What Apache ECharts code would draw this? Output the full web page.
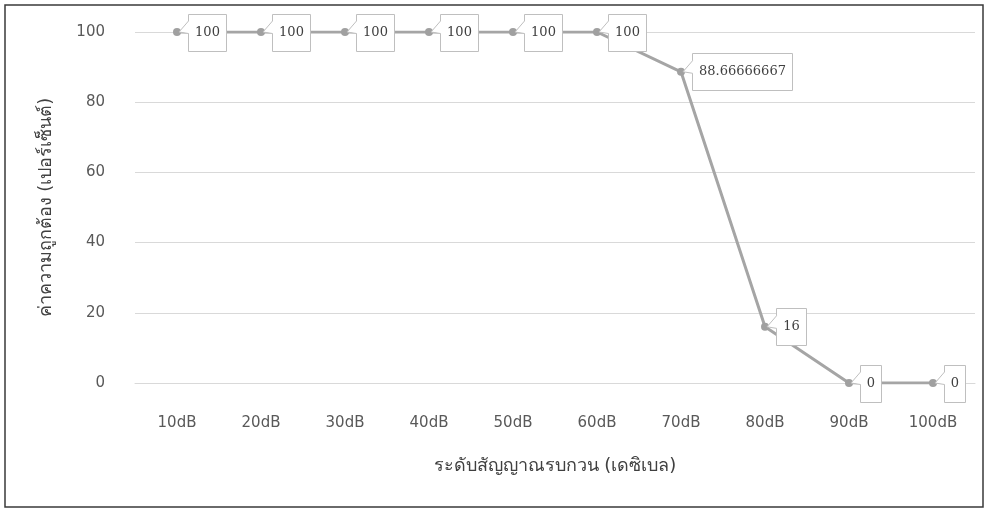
<!DOCTYPE html>
<html>
<head>
<meta charset="utf-8">
<script src="https://cdn.jsdelivr.net/npm/echarts@6/dist/echarts.min.js"></script>
<style>
  html, body { margin: 0; padding: 0; background: #fff; }
  #chart { width: 989px; height: 509px; }
</style>
</head>
<body>
<div id="chart"></div>
<script>
// Noise level categories and recognition accuracy (%)
var categories = ['10dB', '20dB', '30dB', '40dB', '50dB', '60dB', '70dB', '80dB', '90dB', '100dB'];
var accuracy = [100, 100, 100, 100, 100, 100, 88.66666667, 16, 0, 0];
var yTicks = { min: 0, max: 100, interval: 20 };

var FONT = "Tahoma, 'DejaVu Sans', 'Noto Sans', sans-serif";
var LABEL_FONT = "'DejaVu Serif', 'Liberation Serif', serif";
var LABEL_FONT_SIZE = 13;

var measureCtx = document.createElement('canvas').getContext('2d');
function textWidth(str) {
  measureCtx.font = LABEL_FONT_SIZE + 'px ' + LABEL_FONT;
  return measureCtx.measureText(str).width;
}

// Callout with a wedge pointing back at the data point
function renderCallout(params, api) {
  var idx = api.value(0);
  var val = api.value(1);
  var pt = api.coord([idx, val]);
  var px = pt[0], py = pt[1];
  var str = String(accuracy[params.dataIndex]);
  var w = Math.round(textWidth(str)) + 13;
  var h = 37;
  var L = px + 11.5, R = L + w;
  var T = Math.round(py - h / 2) + 0.5, B = T + h;
  var poly = [
    [L, T], [R, T], [R, B], [L, B],
    [L, py + 1.5], [px + 2, py], [L, py - 11]
  ];
  return {
    type: 'group',
    children: [
      {
        type: 'polygon',
        shape: { points: poly },
        style: { fill: '#ffffff', stroke: '#BFBFBF', lineWidth: 1 }
      },
      {
        type: 'text',
        style: {
          text: str,
          x: L + w / 2,
          y: (T + B) / 2,
          align: 'center',
          verticalAlign: 'middle',
          fill: '#404040',
          font: LABEL_FONT_SIZE + 'px ' + LABEL_FONT
        }
      }
    ]
  };
}

var chart = echarts.init(document.getElementById('chart'));
chart.setOption({
  animation: false,
  backgroundColor: '#ffffff',
  textStyle: { fontFamily: FONT },
  graphic: [{
    type: 'rect',
    shape: { x: 5, y: 5, width: 978, height: 502 },
    style: { fill: 'none', stroke: '#3a3a3a', lineWidth: 1.5 },
    z: 100
  }],
  grid: { left: 135, right: 14, top: 32, bottom: 126 },
  xAxis: {
    type: 'category',
    data: categories,
    boundaryGap: true,
    name: 'ระดับสัญญาณรบกวน (เดซิเบล)',
    nameLocation: 'middle',
    nameGap: 74,
    nameTextStyle: { color: '#404040', fontSize: 18, fontFamily: FONT },
    axisLine: { show: true, lineStyle: { color: '#D9D9D9', width: 1 } },
    axisTick: { show: false },
    axisLabel: { color: '#595959', fontSize: 15, margin: 33, fontFamily: FONT }
  },
  yAxis: {
    type: 'value',
    min: yTicks.min,
    max: yTicks.max,
    interval: yTicks.interval,
    name: 'ค่าความถูกต้อง (เปอร์เซ็นต์)',
    nameLocation: 'middle',
    nameGap: 80,
    nameRotate: 90,
    nameTextStyle: { color: '#404040', fontSize: 18, fontFamily: FONT },
    axisLine: { show: false },
    axisTick: { show: false },
    splitLine: { lineStyle: { color: '#D9D9D9', width: 1 } },
    axisLabel: { color: '#595959', fontSize: 15, margin: 30, fontFamily: FONT }
  },
  series: [
    {
      type: 'line',
      data: accuracy,
      symbol: 'circle',
      symbolSize: 8,
      itemStyle: { color: '#A0A0A0' },
      lineStyle: { color: '#A5A5A5', width: 3 },
      z: 2
    },
    {
      type: 'custom',
      data: accuracy.map(function (v, i) { return [i, v]; }),
      renderItem: renderCallout,
      z: 5
    }
  ]
});
</script>
</body>
</html>
